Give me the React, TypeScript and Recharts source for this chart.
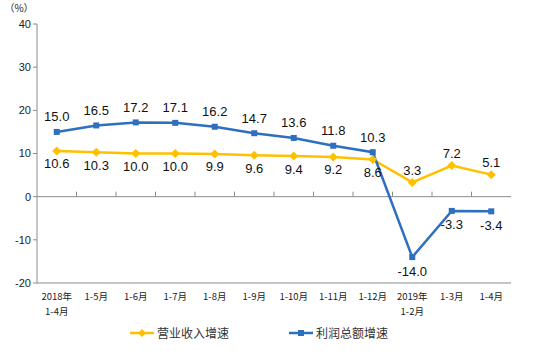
import React from "react";
import {
  LineChart,
  Line,
  XAxis,
  YAxis,
  ReferenceLine,
  Legend,
  LabelList,
} from "recharts";

const categories = [
  "2018年\n1-4月",
  "1-5月",
  "1-6月",
  "1-7月",
  "1-8月",
  "1-9月",
  "1-10月",
  "1-11月",
  "1-12月",
  "2019年\n1-2月",
  "1-3月",
  "1-4月",
];
const revenueGrowth = [10.6, 10.3, 10.0, 10.0, 9.9, 9.6, 9.4, 9.2, 8.6, 3.3, 7.2, 5.1];
const profitGrowth = [15.0, 16.5, 17.2, 17.1, 16.2, 14.7, 13.6, 11.8, 10.3, -14.0, -3.3, -3.4];
const yTicks = [-20, -10, 0, 10, 20, 30, 40];

const ORANGE = "#FFC000";
const BLUE = "#2E6FBF";
const GRID = "#8c8c8c";
const NUM_FONT = "'Liberation Sans', Arial, sans-serif";
const CJK_FONT = "'Noto Sans CJK SC', 'Liberation Sans', sans-serif";

const data = categories.map((name, i) => ({
  name,
  revenue: revenueGrowth[i],
  profit: profitGrowth[i],
}));

// from index 9 on, the orange labels go above and the blue ones below
const SWAP_FROM = 9;

const makeLabel = (series: "revenue" | "profit") => (props: any) => {
  const { x, y, value, index } = props;
  const swapped = index >= SWAP_FROM;
  let above = series === "profit" ? !swapped : swapped;
  const dy = above ? (series === "profit" ? -15 : -12) : series === "profit" ? 14 : 13;
  return (
    <text
      x={x}
      y={y + dy}
      textAnchor="middle"
      dominantBaseline="central"
      fontSize={13}
      fontFamily={NUM_FONT}
      fill="#111"
    >
      {Number(value).toFixed(1)}
    </text>
  );
};

const XTick = (props: any) => {
  const { x, y, payload } = props;
  const lines = String(payload.value).split("\n");
  return (
    <g>
      {lines.map((l, i) => (
        <text
          key={i}
          x={x}
          y={y + 17 + i * 14.5}
          textAnchor="middle"
          fontSize={9.5}
          fontFamily={CJK_FONT}
          fill="#222"
        >
          {l}
        </text>
      ))}
    </g>
  );
};

const ZeroLine = (props: any) => {
  const { x1, y1, x2, y2 } = props;
  const n = categories.length;
  const step = (x2 - x1) / n;
  const marks = [];
  for (let i = 1; i < n; i++) {
    const tx = x1 + step * i;
    marks.push(<line key={i} x1={tx} x2={tx} y1={y1} y2={y1 - 5} stroke={GRID} />);
  }
  return (
    <g>
      <line x1={x1} y1={y1} x2={x2} y2={y2} stroke={GRID} />
      {marks}
    </g>
  );
};

const Diamond = (props: any) => {
  const { cx, cy } = props;
  if (cx == null || cy == null) return null;
  return <path d={`M${cx},${cy - 4.5}L${cx + 4.5},${cy}L${cx},${cy + 4.5}L${cx - 4.5},${cy}Z`} fill={ORANGE} />;
};

const Square = (props: any) => {
  const { cx, cy } = props;
  if (cx == null || cy == null) return null;
  return <rect x={cx - 3} y={cy - 3} width={6} height={6} fill={BLUE} />;
};

const legendItems = [
  { name: "营业收入增速", color: ORANGE, marker: "diamond" },
  { name: "利润总额增速", color: BLUE, marker: "square" },
];

const renderLegend = () => (
  <div
    style={{
      display: "flex",
      justifyContent: "center",
      alignItems: "center",
      gap: 60,
      paddingTop: 5,
      fontFamily: CJK_FONT,
      fontSize: 12,
      color: "#333",
    }}
  >
    {legendItems.map((it) => (
      <div key={it.name} style={{ display: "flex", alignItems: "center" }}>
        <svg width={24} height={10} style={{ marginRight: 3 }}>
          <line x1={0} y1={5} x2={24} y2={5} stroke={it.color} strokeWidth={2.5} />
          {it.marker === "diamond" ? (
            <path d="M12,1L16,5L12,9L8,5Z" fill={it.color} />
          ) : (
            <rect x={9} y={2} width={6} height={6} fill={it.color} />
          )}
        </svg>
        <span>{it.name}</span>
      </div>
    ))}
  </div>
);

export default function App() {
  return (
    <div style={{ position: "absolute", left: 0, top: 0, background: "#fff" }}>
      <LineChart
        width={538}
        height={351}
        data={data}
        margin={{ top: 24, right: 27, left: 7, bottom: 0 }}
      >
        <XAxis
          dataKey="name"
          scale="band"
          interval={0}
          tickLine={false}
          tickSize={0}
          tickMargin={0}
          height={36}
          axisLine={{ stroke: GRID }}
          tick={<XTick />}
        />
        <XAxis
          xAxisId="top"
          dataKey="name"
          scale="band"
          orientation="top"
          tick={false}
          tickLine={false}
          height={0}
          axisLine={{ stroke: GRID }}
        />
        <YAxis
          domain={[-20, 40]}
          ticks={yTicks}
          interval={0}
          width={30}
          tickSize={4}
          tickLine={{ stroke: GRID }}
          axisLine={{ stroke: GRID }}
          tick={{ fontSize: 11, fill: "#222", fontFamily: NUM_FONT }}
          label={(p: any) => {
            const vb = p.viewBox;
            return (
              <text x={vb.x + 12} y={vb.y - 12} textAnchor="middle" fontSize={10} fontFamily={CJK_FONT} fill="#222">
                （%）
              </text>
            );
          }}
        />
        <YAxis
          yAxisId="right"
          orientation="right"
          domain={[-20, 40]}
          width={0}
          tick={false}
          tickLine={false}
          axisLine={{ stroke: GRID }}
        />
        <ReferenceLine y={0} shape={<ZeroLine />} />
        <Legend verticalAlign="bottom" height={32} content={renderLegend} />
        <Line
          type="linear"
          dataKey="revenue"
          stroke={ORANGE}
          strokeWidth={2.5}
          dot={<Diamond />}
          activeDot={false}
          isAnimationActive={false}
        >
          <LabelList dataKey="revenue" content={makeLabel("revenue")} />
        </Line>
        <Line
          type="linear"
          dataKey="profit"
          stroke={BLUE}
          strokeWidth={2.5}
          dot={<Square />}
          activeDot={false}
          isAnimationActive={false}
        >
          <LabelList dataKey="profit" content={makeLabel("profit")} />
        </Line>
      </LineChart>
    </div>
  );
}
